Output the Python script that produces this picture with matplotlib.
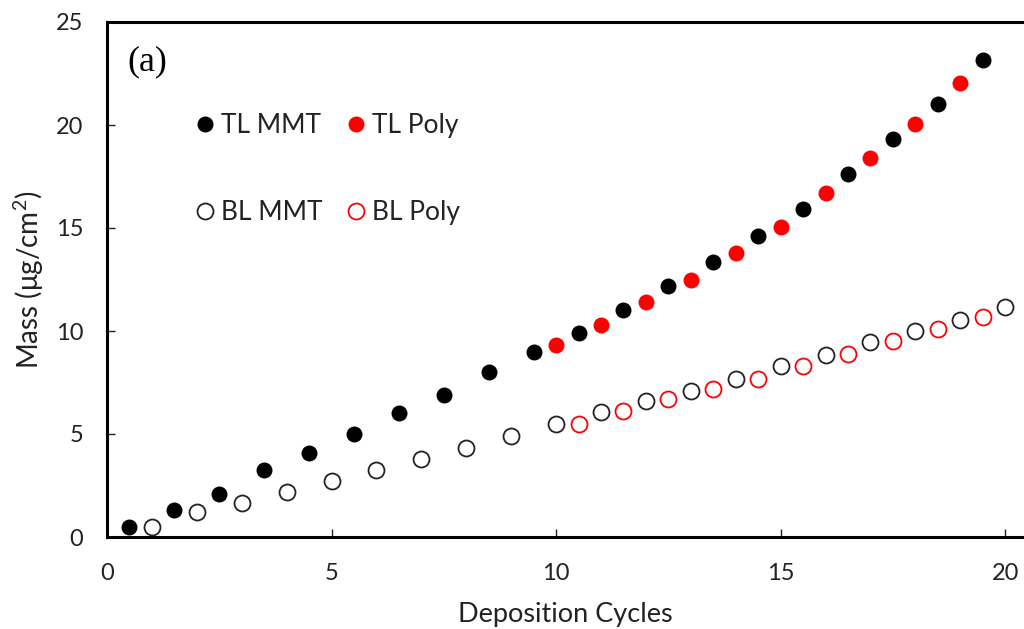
import matplotlib
matplotlib.use("Agg")
import matplotlib.pyplot as plt

tl_mmt_x = [0.5, 1.5, 2.5, 3.5, 4.5, 5.5, 6.5, 7.5, 8.5, 9.5, 10.5, 11.5, 12.5, 13.5, 14.5, 15.5, 16.5, 17.5, 18.5, 19.5]
tl_mmt_y = [0.5, 1.3, 2.1, 3.25, 4.1, 5.0, 6.0, 6.9, 8.0, 9.0, 9.9, 11.0, 12.2, 13.35, 14.6, 15.9, 17.6, 19.3, 21.0, 23.15]
tl_poly_x = [10, 11, 12, 13, 14, 15, 16, 17, 18, 19]
tl_poly_y = [9.3, 10.3, 11.4, 12.5, 13.8, 15.05, 16.7, 18.4, 20.05, 22.05]
bl_mmt_x = [1, 2, 3, 4, 5, 6, 7, 8, 9, 10, 11, 12, 13, 14, 15, 16, 17, 18, 19, 20]
bl_mmt_y = [0.5, 1.2, 1.65, 2.2, 2.7, 3.25, 3.8, 4.3, 4.9, 5.5, 6.05, 6.6, 7.1, 7.65, 8.3, 8.85, 9.45, 10.0, 10.55, 11.15]
bl_poly_x = [10.5, 11.5, 12.5, 13.5, 14.5, 15.5, 16.5, 17.5, 18.5, 19.5]
bl_poly_y = [5.5, 6.1, 6.7, 7.2, 7.65, 8.3, 8.9, 9.5, 10.1, 10.7]

xticks = [0, 5, 10, 15, 20]
yticks = [0, 5, 10, 15, 20, 25]

plt.rcParams['font.family'] = ['Lato', 'DejaVu Sans']
plt.rcParams['mathtext.fontset'] = 'custom'
plt.rcParams['mathtext.rm'] = 'Lato'

fig = plt.figure(figsize=(10.24, 6.29), dpi=100)
ax = fig.add_axes([107/1024, 92/629, 1 - 107/1024, (537-22)/629])

ms = 11.5
ax.plot(tl_mmt_x, tl_mmt_y, 'o', color='black', ms=ms, mew=0, label='TL MMT', clip_on=False)
ax.plot(tl_poly_x, tl_poly_y, 'o', color='#ff0000', ms=ms, mew=0, label='TL Poly', clip_on=False)
ax.plot(bl_mmt_x, bl_mmt_y, 'o', mfc='none', mec='#222222', ms=ms, mew=1.3, label='BL MMT', clip_on=False)
ax.plot(bl_poly_x, bl_poly_y, 'o', mfc='none', mec='#ff0000', ms=ms, mew=1.3, label='BL Poly', clip_on=False)

ax.set_xlim(0, 20.42)
ax.set_ylim(0, 25)
ax.set_xticks(xticks)
ax.set_yticks(yticks)
ax.spines['right'].set_visible(False)
for s in ['left', 'bottom', 'top']:
    ax.spines[s].set_linewidth(2.2)
ax.tick_params(direction='in', length=6, width=1, labelsize=17, pad=17, colors='#222222')
ax.tick_params(axis='x', pad=19)

ax.set_xlabel('Deposition Cycles', fontsize=19.5, labelpad=13, color='#222222')
ax.set_ylabel('Mass (μg/cm$^2$)', fontsize=20, labelpad=7, color='#222222')

ax.text(0.022, 0.922, '(a)', transform=ax.transAxes, fontsize=26,
        family='Liberation Serif', va='center', ha='left')

handles, labels = ax.get_legend_handles_labels()
order = [0, 2, 1, 3]
leg = ax.legend([handles[i] for i in order], [labels[i] for i in order], ncol=2,
                loc='upper left', bbox_to_anchor=(0.098, 0.823), frameon=False,
                fontsize=19, handlelength=0.6, handletextpad=0.3, borderpad=0,
                borderaxespad=0, columnspacing=1.0, labelspacing=2.36, markerscale=1.0)
for t in leg.get_texts():
    t.set_color('#222222')

fig.savefig('out.png', dpi=100)
